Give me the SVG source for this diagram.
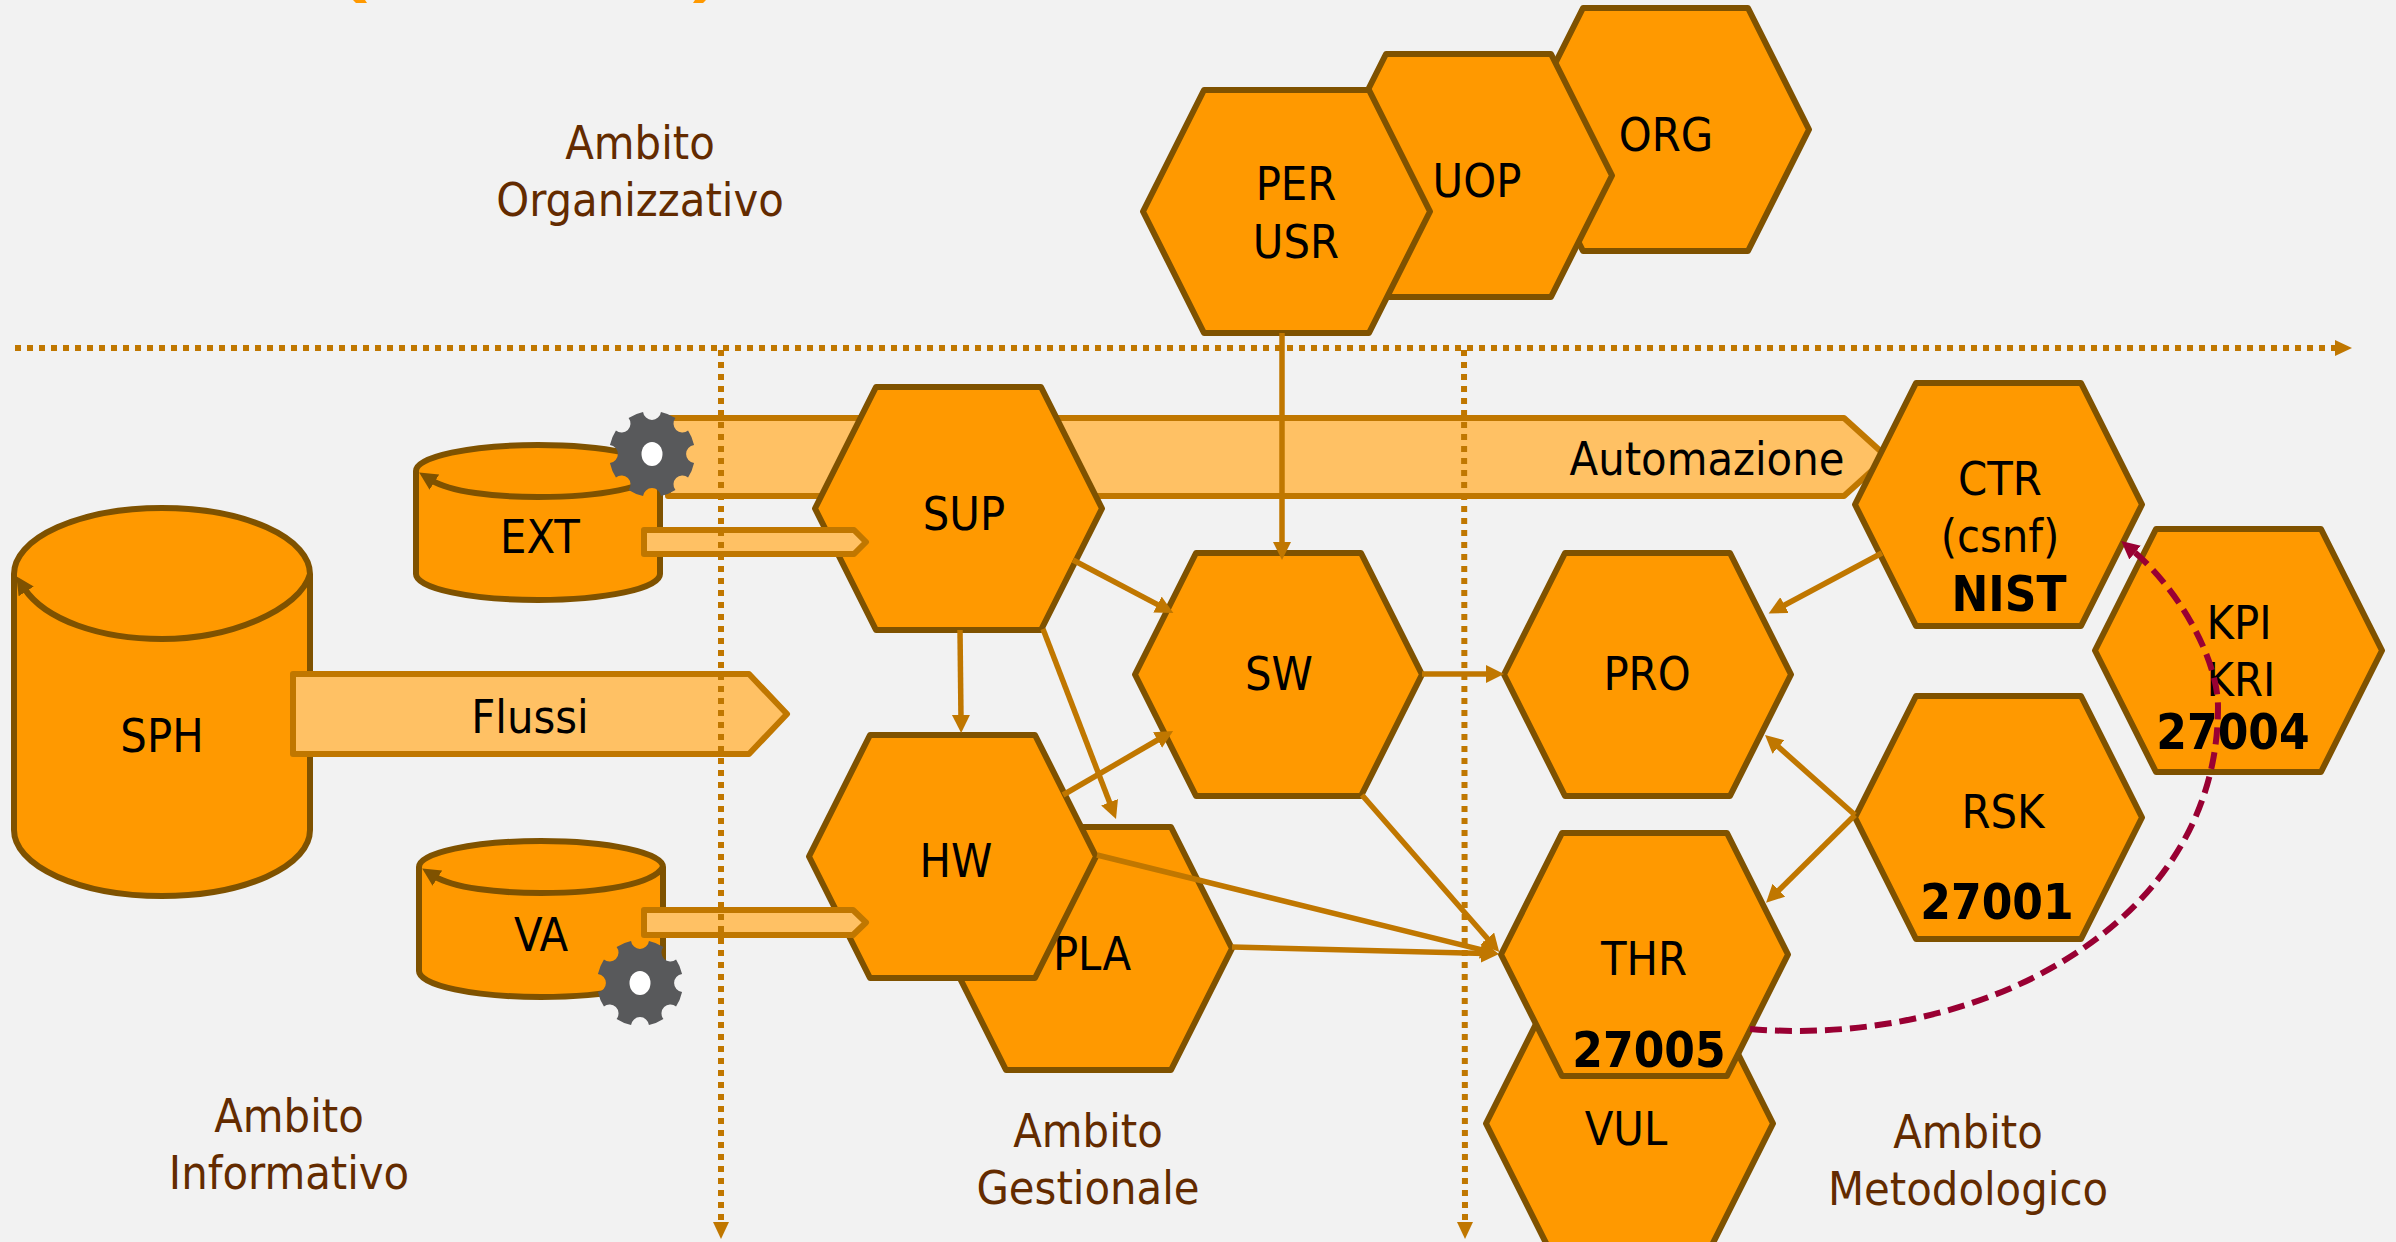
<svg xmlns="http://www.w3.org/2000/svg" width="2396" height="1242" viewBox="0 0 2396 1242">
<style>
text{font-family:"DejaVu Sans","Liberation Sans",sans-serif;font-stretch:condensed;font-size:46.5px;text-anchor:middle;fill:#000}
.b{font-weight:bold;font-size:49px}
.amb{fill:#632b00}
.hex,.can{fill:#ff9900;stroke:#7f5200;stroke-width:6;stroke-linejoin:round}
.canl{fill:none;stroke:#7f5200;stroke-width:6;marker-end:url(#ma)}
.flow{fill:#ffc164;stroke:#c07700;stroke-width:6;stroke-linejoin:round}
.c{fill:none;stroke:#c07700;stroke-width:5.5;marker-end:url(#mc)}
.d{fill:none;stroke:#c07700;stroke-width:6;stroke-dasharray:6 6;marker-end:url(#md)}
.r{fill:none;stroke:#990033;stroke-width:6;stroke-dasharray:17 8;marker-end:url(#mr)}
</style>
<defs>
<marker id="mc" markerUnits="userSpaceOnUse" markerWidth="20" markerHeight="20" refX="4" refY="9" orient="auto"><path d="M0 0L18 9L0 18z" fill="#c07700"/></marker>
<marker id="md" markerUnits="userSpaceOnUse" markerWidth="20" markerHeight="20" refX="3" refY="8" orient="auto"><path d="M0 0L17 8L0 16z" fill="#c07700"/></marker>
<marker id="mr" markerUnits="userSpaceOnUse" markerWidth="20" markerHeight="20" refX="4" refY="9" orient="auto"><path d="M0 0L18 9L0 18z" fill="#990033"/></marker>
<marker id="ma" markerUnits="userSpaceOnUse" markerWidth="20" markerHeight="20" refX="4" refY="9" orient="auto"><path d="M0 0L18 9L0 18z" fill="#7f5200"/></marker>
<path id="hx" class="hex" d="M0 121.5L61 0H226L287 121.5L226 243H61z"/>
<g id="gear"><path fill="#58595b" d="M42.06-8.94A9 9 0 0 0 42.06 8.94A43 43 0 0 1 36.06 23.42A9 9 0 0 0 23.42 36.06A43 43 0 0 1 8.94 42.06A9 9 0 0 0-8.94 42.06A43 43 0 0 1-23.42 36.06A9 9 0 0 0-36.06 23.42A43 43 0 0 1-42.06 8.94A9 9 0 0 0-42.06-8.94A43 43 0 0 1-36.06-23.42A9 9 0 0 0-23.42-36.06A43 43 0 0 1-8.94-42.06A9 9 0 0 0 8.94-42.06A43 43 0 0 1 23.42-36.06A9 9 0 0 0 36.06-23.42A43 43 0 0 1 42.06-8.94z"/><ellipse rx="10.5" ry="12" fill="#fff"/></g>
</defs>
<rect width="2396" height="1242" fill="#f2f2f2"/>
<path d="M353 0L356 3H367L365 0z M706 0L703 3H693L695 0z" fill="#ff9900"/>

<g id="label-organizzativo"><text class="amb" x="640" y="159">Ambito</text><text class="amb" x="640" y="216">Organizzativo</text></g>
<g id="label-informativo"><text class="amb" x="289" y="1132">Ambito</text><text class="amb" x="289" y="1189">Informativo</text></g>
<g id="label-gestionale"><text class="amb" x="1088" y="1147">Ambito</text><text class="amb" x="1088" y="1204">Gestionale</text></g>
<g id="label-metodologico"><text class="amb" x="1968" y="1148">Ambito</text><text class="amb" x="1968" y="1205">Metodologico</text></g>

<g id="automazione"><path class="flow" d="M668 418H1844L1887 457L1844 496H668z"/><text x="1707" y="475">Automazione</text></g>
<g id="ORG"><use href="#hx" x="1522" y="8"/><text x="1666" y="151">ORG</text></g>
<g id="UOP"><use href="#hx" x="1325" y="54"/><text x="1477" y="197">UOP</text></g>
<g id="PER"><use href="#hx" x="1143" y="90"/><text x="1296" y="200">PER</text><text x="1296" y="258">USR</text></g>

<g id="SPH"><path class="can" d="M14 574V830A148 66 0 0 0 310 830V574A148 66 0 0 0 14 574z"/><path class="canl" d="M310 574C300 610 230 639 162 639C100 639 45 620 24 588"/><text x="162" y="752">SPH</text></g>
<g id="EXT"><path class="can" d="M416 471V574A122 26 0 0 0 660 574V471A122 26 0 0 0 416 471z"/><path class="canl" d="M660 471C650 488 600 497 538 497C495 497 450 492 431 480"/><text x="540" y="553">EXT</text></g>
<g id="VA"><path class="can" d="M419 867V971A122 26 0 0 0 663 971V867A122 26 0 0 0 419 867z"/><path class="canl" d="M663 867C653 884 603 893 541 893C498 893 453 888 434 876"/><text x="541" y="951">VA</text></g>
<use id="gear-ext" href="#gear" x="652" y="454"/>
<use id="gear-va" href="#gear" x="640" y="983"/>
<g id="flussi"><path class="flow" d="M293 674H749L787 714L749 754H293z"/><text x="530" y="733">Flussi</text></g>

<g id="SUP"><use href="#hx" x="815" y="387"/><text x="964" y="530">SUP</text></g>
<g id="PLA"><use href="#hx" x="945" y="827"/><text x="1092" y="970">PLA</text></g>
<g id="HW"><use href="#hx" x="809" y="735"/><text x="956" y="877">HW</text></g>
<g id="SW"><use href="#hx" x="1135" y="553"/><text x="1279" y="690">SW</text></g>
<g id="PRO"><use href="#hx" x="1504" y="553"/><text x="1647" y="690">PRO</text></g>
<g id="VUL"><use href="#hx" x="1486" y="1002"/><text x="1626" y="1145">VUL</text></g>
<g id="THR"><use href="#hx" x="1501" y="833"/><text x="1644" y="975">THR</text><text class="b" x="1649" y="1067">27005</text></g>
<g id="CTR"><use href="#hx" x="1855" y="383"/><text x="2000" y="495">CTR</text><text x="2000" y="552">(csnf)</text><text class="b" x="2009" y="611">NIST</text></g>
<g id="RSK"><use href="#hx" x="1855" y="696"/><text x="2003" y="828">RSK</text><text class="b" x="1997" y="919">27001</text></g>
<g id="KPI"><use href="#hx" x="2095" y="529"/><text x="2239" y="639">KPI</text><text x="2241" y="696">KRI</text><text class="b" x="2233" y="749">27004</text></g>

<g id="connectors">
<path class="flow" d="M644 530H854L866 542L854 554H644z"/>
<path class="flow" d="M644 910H853L866 922.500L853 935H644z"/>
<path class="d" d="M15 348H2338"/>
<path class="d" d="M721 350V1225"/>
<path class="d" d="M1464 350L1465 1225"/>
<path class="c" d="M1282 333V546"/>
<path class="c" d="M1073 560L1161 606.4"/>
<path class="c" d="M1063 795L1161 738"/>
<path class="c" d="M1043 629L1111 806"/>
<path class="c" d="M960 630L961 719"/>
<path class="c" d="M1422 674H1490"/>
<path class="c" d="M1362 795L1490 941.5"/>
<path class="c" d="M1097 855L1485 950.7"/>
<path class="c" d="M1232 947L1485 953.6"/>
<path class="c" d="M1882 553L1781 607"/>
<path class="c" d="M1855 815L1775.5 744.3"/>
<path class="c" d="M1855 815L1776 893"/>
<path class="r" d="M1750 1029C1980 1048 2218 925 2218 707C2218 660 2180 590 2132 550"/>
</g>
</svg>
